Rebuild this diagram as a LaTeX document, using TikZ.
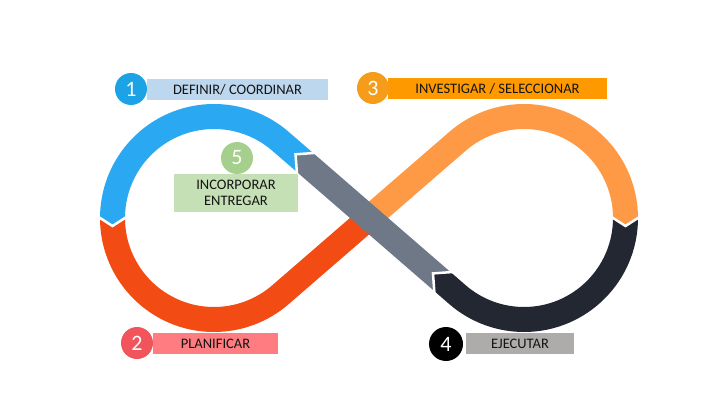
\documentclass[tikz,border=0pt]{standalone}
\usepackage{fontspec}
\setmainfont{Carlito}
\definecolor{bandblue}{HTML}{2AA8F2}
\definecolor{bandred}{HTML}{F24B14}
\definecolor{bandorange}{HTML}{FE9A45}
\definecolor{banddark}{HTML}{222731}
\definecolor{bandgray}{HTML}{6E7887}
\definecolor{dotblue}{HTML}{1BA3E6}
\definecolor{dotred}{HTML}{F2545B}
\definecolor{dotorange}{HTML}{F59D1A}
\definecolor{dotgreen}{HTML}{A5CF8D}
\definecolor{tagblue}{HTML}{BDD7EE}
\definecolor{tagred}{HTML}{FF7C80}
\definecolor{tagorange}{HTML}{FF9900}
\definecolor{taggray}{HTML}{AEABAB}
\definecolor{taggreen}{HTML}{C5E0B4}
\definecolor{tagtext}{HTML}{141414}
\begin{document}
\begin{tikzpicture}[x=1pt,y=1pt,
  band/.style={line width=25pt},
  gap/.style={white, line width=2.5pt},
  numdot/.style={circle, minimum size=32pt, inner sep=0pt, text=white, font=\fontsize{22}{22}\selectfont},
  tag/.style={minimum height=21pt, inner sep=0pt, text=tagtext, font=\fontsize{14.5}{15}\selectfont}]
\useasboundingbox (0,0) rectangle (720,405);
\coordinate (L) at (214,187);
\coordinate (R) at (524,187);
\coordinate (M) at (369,187);
\coordinate (P1) at (112.5,187);
\coordinate (P2) at (625.5,187);
\coordinate (T1) at (280.45,263.72);
\coordinate (T3) at (457.55,263.72);
\coordinate (G1) at (305,242.5);
\coordinate (G2) at (442.45,123.4);
\draw[band, bandred] (P1) arc[start angle=180, end angle=310.9, radius=101.5] -- (M);
\draw[band, bandorange] (M) -- (T3) arc[start angle=130.9, end angle=0, radius=101.5];
\draw[band, bandblue] (G1) -- (T1) arc[start angle=49.1, end angle=180, radius=101.5];
\draw[band, banddark] (P2) arc[start angle=0, end angle=-130.9, radius=101.5] -- (G2);
\draw[band, bandgray] (G2) -- (G1);
\begin{scope}[shift={(P1)}, rotate=-90]
\fill[bandblue] (-1,12.5) -- (0,12.5) -- (8,0) -- (0,-12.5) -- (-1,-12.5) -- cycle;
\draw[gap] (-1,14) -- (8,0) -- (-1,-14);
\end{scope}
\begin{scope}[shift={(P2)}, rotate=-90]
\fill[bandorange] (-1,12.5) -- (0,12.5) -- (8,0) -- (0,-12.5) -- (-1,-12.5) -- cycle;
\draw[gap] (-1,14) -- (8,0) -- (-1,-14);
\end{scope}
\begin{scope}[shift={(G2)}, rotate=139.1]
\fill[banddark] (-1,12.5) -- (0,12.5) -- (12.5,0) -- (0,-12.5) -- (-1,-12.5) -- cycle;
\draw[gap] (-1.5,14) -- (12.5,0) -- (-1.5,-14);
\end{scope}
\begin{scope}[shift={(G1)}, rotate=139.1]
\fill[bandgray] (-1,12.5) -- (0,12.5) -- (12.5,0) -- (0,-12.5) -- (-1,-12.5) -- cycle;
\draw[gap] (-1.5,14) -- (12.5,0) -- (-1.5,-14);
\end{scope}
\node[tag, fill=tagblue, minimum width=181pt] (t1) at (237.5,315.5) {DEFINIR/ COORDINAR};
\node[tag, fill=tagred, minimum width=125pt] (t2) at (215.5,61.5) {PLANIFICAR};
\node[tag, fill=tagorange, minimum width=219pt] (t3) at (497.5,316.5) {INVESTIGAR / SELECCIONAR};
\node[tag, fill=taggray, minimum width=108pt] (t4) at (520,61.5) {EJECUTAR};
\node[tag, fill=taggreen, minimum width=124pt, minimum height=38pt, align=center, font=\fontsize{14.5}{16}\selectfont] (t5) at (236,212) {INCORPORAR\\ENTREGAR};
\node[numdot, fill=dotblue] (d1) at (131,316) {1};
\node[numdot, fill=dotred] (d2) at (137,62) {2};
\node[numdot, fill=dotorange] (d3) at (373,317) {3};
\node[numdot, fill=black, minimum size=34pt] (d4) at (446,61) {4};
\node[numdot, fill=dotgreen] (d5) at (237,247) {5};
\end{tikzpicture}
\end{document}
